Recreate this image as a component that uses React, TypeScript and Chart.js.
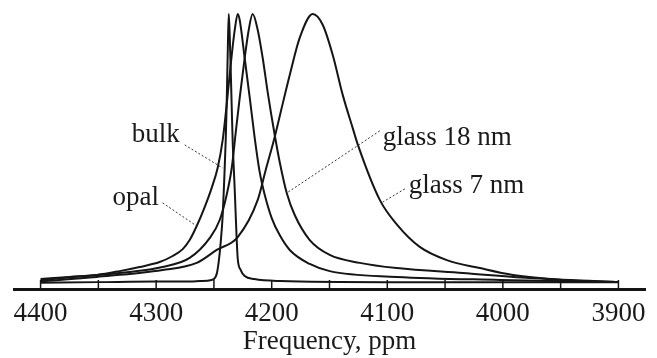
import React, { useEffect, useRef } from "react";
import { Chart, registerables } from "chart.js";

Chart.register(...registerables);

// ---- axis ----
const tickValues = [3900, 3950, 4000, 4050, 4100, 4150, 4200, 4250, 4300, 4350, 4400];
const labeledTicks = [4400, 4300, 4200, 4100, 4000, 3900];
const xTitle = "Frequency, ppm";

// ---- series (ppm, intensity with peak = 100) ----
const bulkPpm = [4400, 4350, 4300, 4270, 4262, 4252, 4247.6, 4245.9, 4244.2, 4242.4, 4241.1, 4239.8, 4239, 4238.1, 4237.2, 4236.4, 4235.5, 4234.6, 4233.8, 4232, 4230.3, 4229.4, 4226.8, 4223.4, 4215, 4193, 4100, 4000, 3900];
const bulkVal = [2.3, 2.5, 2.7, 2.7, 2.9, 3.3, 5.5, 9.8, 16.7, 26.9, 39.6, 54.2, 66.9, 85, 100, 93, 80, 66, 54, 36, 18, 11, 6.9, 4.7, 3.6, 2.9, 2.5, 2.5, 2.5];

const opalPpm = [4400, 4375, 4351.5, 4331.6, 4314.3, 4297, 4285.7, 4277, 4271, 4264.9, 4258, 4252, 4246.8, 4242.4, 4239, 4235.5, 4232, 4229.4, 4227.7, 4223.4, 4219, 4214.7, 4210.4, 4206, 4200, 4193.1, 4184.4, 4167.1, 4149.8, 4091.8, 4002.6, 3900];
const opalVal = [3.6, 4.4, 5.1, 6.5, 8, 9.8, 12, 14.5, 17.8, 22.9, 29.8, 36.7, 44, 54.2, 66.9, 81.5, 94.2, 100, 97.8, 84, 69.5, 54.9, 42.5, 34.2, 25.8, 19.6, 14.2, 9.1, 6.5, 4.4, 3.3, 2.5];

const glass18Ppm = [4400, 4381, 4323, 4294.4, 4271, 4253.7, 4245, 4239, 4234.6, 4231.2, 4227.7, 4223.4, 4219.9, 4216.5, 4212.1, 4207.8, 4203.5, 4197.4, 4193.1, 4187, 4180.1, 4167.1, 4149.8, 4123.8, 4091.8, 4034.6, 3976.6, 3900];
const glass18Val = [3.2, 4, 6.2, 8, 11.3, 18.5, 25.1, 34.2, 44, 56.7, 69.5, 84, 94.2, 100, 94.2, 84, 71.6, 56, 46.2, 34.9, 26.9, 17.8, 12.4, 9.5, 7.6, 5.8, 4, 2.5];

const glass7Ppm = [4400, 4351.5, 4294.4, 4264.9, 4247.6, 4229.4, 4212.1, 4205.2, 4197.4, 4192.2, 4184.4, 4175.8, 4164.5, 4155.8, 4147.2, 4138.5, 4129.9, 4125.5, 4106.5, 4091.8, 4071.9, 4048.5, 4019.9, 3991.3, 3948, 3900];
const glass7Val = [2.8, 4.4, 6.9, 9.5, 14.2, 18.9, 32.4, 43.3, 55.3, 64.4, 77.8, 91.3, 100, 96, 85.1, 70.5, 58.5, 52.5, 32.4, 23.5, 15.3, 10.5, 7.6, 5.1, 3.3, 2.5];

const seriesNames = ["bulk", "opal", "glass 18 nm", "glass 7 nm"];

// ---- callouts (data units) ----
const calloutText = ["bulk", "opal", "glass 18 nm", "glass 7 nm"];
const calloutTextPpm = [4321.2, 4337.7, 4103.9, 4081.4];
const calloutTextVal = [53.5, 30.5, 52.4, 34.9];
const leaderFromPpm = [4275.3, 4294.4, 4106.5, 4084.8];
const leaderFromVal = [52.4, 31.3, 57.5, 36.4];
const leaderToPpm = [4242.4, 4264.9, 4187, 4103.9];
const leaderToVal = [44, 22.9, 34.9, 31.6];

const FONT = '"Liberation Serif", "Times New Roman", serif';
const INK = "#151515";

const overlay = {
  id: "overlay",
  afterDraw(chart: any) {
    const { ctx, chartArea } = chart;
    const x = chart.scales.x;
    const y = chart.scales.y;
    ctx.save();
    // inward tick marks
    ctx.strokeStyle = INK;
    ctx.lineWidth = 1.5;
    for (const t of x.ticks) {
      const px = x.getPixelForValue(t.value);
      ctx.beginPath();
      ctx.moveTo(px, chartArea.bottom);
      ctx.lineTo(px, chartArea.bottom - 9);
      ctx.stroke();
    }
    // leader lines
    ctx.lineWidth = 1;
    ctx.strokeStyle = "#333";
    ctx.setLineDash([2, 2]);
    for (let i = 0; i < calloutText.length; i++) {
      ctx.beginPath();
      ctx.moveTo(x.getPixelForValue(leaderFromPpm[i]), y.getPixelForValue(leaderFromVal[i]));
      ctx.lineTo(x.getPixelForValue(leaderToPpm[i]), y.getPixelForValue(leaderToVal[i]));
      ctx.stroke();
    }
    ctx.setLineDash([]);
    // labels
    ctx.fillStyle = "#1a1a1a";
    ctx.font = `27px ${FONT}`;
    ctx.textAlign = "left";
    ctx.textBaseline = "alphabetic";
    for (let i = 0; i < calloutText.length; i++) {
      ctx.fillText(calloutText[i], x.getPixelForValue(calloutTextPpm[i]), y.getPixelForValue(calloutTextVal[i]));
    }
    ctx.restore();
  },
};

export default function App() {
  const ref = useRef<HTMLCanvasElement>(null);
  useEffect(() => {
    document.body.style.margin = "0";
    const canvas = ref.current!;
    const mk = (p: number[], v: number[]) => p.map((px, i) => ({ x: px, y: v[i] }));
    const pairs: [number[], number[]][] = [
      [bulkPpm, bulkVal],
      [opalPpm, opalVal],
      [glass18Ppm, glass18Val],
      [glass7Ppm, glass7Val],
    ];
    const datasets = pairs.map(([p, v], i) => ({
      label: seriesNames[i],
      data: mk(p, v),
      borderColor: INK,
      borderWidth: 2,
      pointRadius: 0,
      fill: false,
      cubicInterpolationMode: "monotone" as const,
      clip: false as any,
    }));
    const chart = new Chart(canvas, {
      type: "line",
      data: { datasets },
      options: {
        responsive: false,
        animation: false,
        devicePixelRatio: 1,
        layout: { padding: { left: 14, right: 12, top: 14, bottom: 0 } },
        plugins: { legend: { display: false }, tooltip: { enabled: false } },
        scales: {
          x: {
            type: "linear",
            reverse: true,
            min: 3877,
            max: 4423,
            afterBuildTicks: (s: any) => {
              s.ticks = tickValues.map((v) => ({ value: v }));
            },
            afterFit: (s: any) => {
              s.height = 69;
            },
            grid: { display: false, drawTicks: false },
            border: { display: true, width: 3, color: INK },
            ticks: {
              autoSkip: false,
              maxRotation: 0,
              padding: 9,
              color: "#1a1a1a",
              font: { family: FONT, size: 27 },
              callback: (v: any) => (labeledTicks.includes(Number(v)) ? String(v) : ""),
            },
            title: {
              display: true,
              text: xTitle,
              color: "#1a1a1a",
              font: { family: FONT, size: 27 },
              padding: { top: 0, bottom: 0 },
            },
          },
          y: { type: "linear", display: false, min: 0, max: 100 },
        },
      },
      plugins: [overlay],
    });
    return () => chart.destroy();
  }, []);
  return <canvas ref={ref} width={657} height={358} style={{ display: "block" }} />;
}
